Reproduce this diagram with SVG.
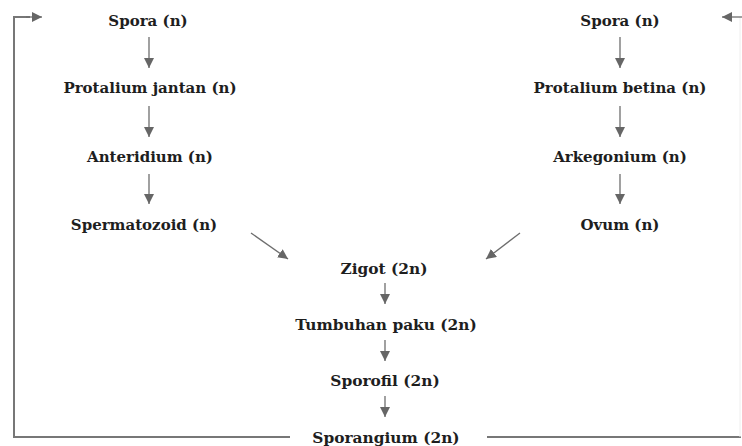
<svg xmlns="http://www.w3.org/2000/svg" width="742" height="446" viewBox="0 0 742 446">
<style>
.t{font-family:"DejaVu Serif","Liberation Serif",serif;fill:#1e1e1e;text-anchor:middle;font-weight:bold;}
.b{font-size:15px;}
.c{font-size:15.4px;}
.ln{stroke:#6e6e6e;stroke-width:1.3;fill:none;}
.fr{stroke:#777;stroke-width:2;fill:none;}
</style>
<defs>
<marker id="ah" markerUnits="userSpaceOnUse" markerWidth="12" markerHeight="10" refX="10" refY="5" orient="auto">
<path d="M0,0 L10,5 L0,10 Z" fill="#666"/>
</marker>
</defs>
<rect width="742" height="446" fill="#fff"/>
<g id="connectors">
<line class="ln" x1="149" y1="37" x2="149" y2="68" marker-end="url(#ah)"/>
<line class="ln" x1="149" y1="106" x2="149" y2="137" marker-end="url(#ah)"/>
<line class="ln" x1="149" y1="174" x2="149" y2="204" marker-end="url(#ah)"/>
<line class="ln" x1="620" y1="37" x2="620" y2="68" marker-end="url(#ah)"/>
<line class="ln" x1="620" y1="106" x2="620" y2="137" marker-end="url(#ah)"/>
<line class="ln" x1="620" y1="174" x2="620" y2="204" marker-end="url(#ah)"/>
<line class="ln" x1="251" y1="233" x2="288" y2="259" marker-end="url(#ah)"/>
<line class="ln" x1="520" y1="233" x2="486" y2="259" marker-end="url(#ah)"/>
<line class="ln" x1="385" y1="283" x2="385" y2="304" marker-end="url(#ah)"/>
<line class="ln" x1="385" y1="340" x2="385" y2="361" marker-end="url(#ah)"/>
<line class="ln" x1="385" y1="396" x2="385" y2="417" marker-end="url(#ah)"/>
<polyline class="fr" points="290,437 14,437 14,17 30,17"/>
<line class="ln" x1="26" y1="17" x2="42" y2="17" marker-end="url(#ah)"/>
<polyline class="fr" points="487,437 741,437"/>
<line stroke="#eee" stroke-width="1" x1="740" y1="17" x2="740" y2="437"/>
<line class="ln" x1="742" y1="17" x2="722" y2="17" marker-end="url(#ah)"/>
</g>
<g id="spora-l"><text class="t b" x="148" y="26">Spora (n)</text></g>
<g id="protalium-jantan"><text class="t b" x="150" y="93">Protalium jantan (n)</text></g>
<g id="anteridium"><text class="t b" x="150" y="162">Anteridium (n)</text></g>
<g id="spermatozoid"><text class="t b" x="144" y="230">Spermatozoid (n)</text></g>
<g id="spora-r"><text class="t b" x="620" y="26">Spora (n)</text></g>
<g id="protalium-betina"><text class="t b" x="620" y="93">Protalium betina (n)</text></g>
<g id="arkegonium"><text class="t b" x="620" y="162">Arkegonium (n)</text></g>
<g id="ovum"><text class="t b" x="620" y="230">Ovum (n)</text></g>
<g id="zigot"><text class="t c" x="384" y="274">Zigot (2n)</text></g>
<g id="tumbuhan-paku"><text class="t c" x="386" y="330">Tumbuhan paku (2n)</text></g>
<g id="sporofil"><text class="t c" x="385" y="386">Sporofil (2n)</text></g>
<g id="sporangium"><text class="t c" x="386" y="443">Sporangium (2n)</text></g>
</svg>
